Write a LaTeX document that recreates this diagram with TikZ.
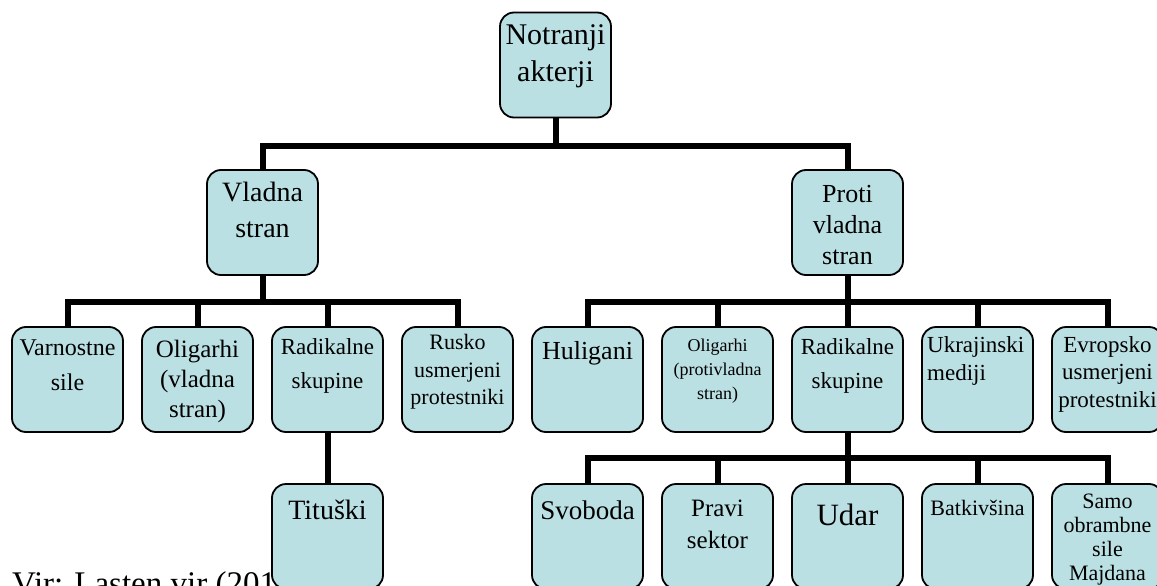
\documentclass[tikz,border=0pt]{standalone}
\usepackage{fontspec}
\setmainfont{Liberation Serif}
\definecolor{boxfill}{HTML}{BBE0E3}
\newcommand\setfs[2]{\fontsize{#1}{#2}\selectfont}
\tikzset{
  box/.style={draw=black, line width=1.8pt, fill=boxfill, rounded corners=14pt,
    minimum width=111pt, minimum height=105pt, inner sep=0pt},
  conn/.style={draw=black, line width=6pt, line join=miter},
  lbl/.style={align=center, inner sep=0pt, text=black},
}
\begin{document}
\begin{tikzpicture}[x=1pt, y=-1pt]
\useasboundingbox (0,0) rectangle (1157,586);
\clip (0,0) rectangle (1157,586);
\fill[white] (0,0) rectangle (1157,586);

% caption (partly hidden by the Tituski box)
\node[anchor=base west, inner sep=0pt, font=\setfs{33}{40}] (vir) at (12,594) {Vir: Lasten vir (2016};

% bar levels
\coordinate (b1) at (0,146);
\coordinate (b2) at (0,302);
\coordinate (b3) at (0,458);

% boxes
\node[box] (top) at (555.5,65) {};
\node[box] (vl) at (262.5,222.5) {};
\node[box] (pr) at (847.5,222.5) {};

\node[box] (vs)  at (67.5,379.5) {};
\node[box] (ol1) at (197.5,379.5) {};
\node[box] (rd1) at (327.5,379.5) {};
\node[box] (ru)  at (457.5,379.5) {};
\node[box] (hu)  at (587.5,379.5) {};
\node[box] (ol2) at (717.5,379.5) {};
\node[box] (rd2) at (847.5,379.5) {};
\node[box] (uk)  at (977.5,379.5) {};
\node[box] (ev)  at (1107.5,379.5) {};

\node[box] (tit) at (327.5,536.5) {};
\node[box] (sv)  at (587.5,536.5) {};
\node[box] (ps)  at (717.5,536.5) {};
\node[box] (ud)  at (847.5,536.5) {};
\node[box] (bk)  at (977.5,536.5) {};
\node[box] (sm)  at (1107.5,536.5) {};

% connectors
\foreach \c in {vl,pr}
  \draw[conn] (top.south) -- (top.south |- b1) -| (\c.north);
\foreach \c in {vs,ol1,rd1,ru}
  \draw[conn] (vl.south) -- (vl.south |- b2) -| (\c.north);
\foreach \c in {hu,ol2,rd2,uk,ev}
  \draw[conn] (pr.south) -- (pr.south |- b2) -| (\c.north);
\draw[conn] (rd1.south) -- (tit.north);
\foreach \c in {sv,ps,ud,bk,sm}
  \draw[conn] (rd2.south) -- (rd2.south |- b3) -| (\c.north);

% texts
\node[lbl, font=\setfs{30}{37}] (top-t) at (555.5,56) {Notranji\\akterji};
\node[lbl, font=\setfs{28}{36}] (vl-t) at (262.5,210) {Vladna\\stran};
\node[lbl, font=\setfs{26}{31}] (pr-t) at (847.5,225) {Proti\\vladna\\stran};

\node[lbl, font=\setfs{24}{35}] (vs-t) at (67.5,365) {Varnostne\\sile};
\node[lbl, font=\setfs{25}{30}] (ol1-t) at (197.5,381) {Oligarhi\\(vladna\\stran)};
\node[lbl, font=\setfs{23}{34}] (rd1-t) at (327.5,366) {Radikalne\\skupine};
\node[lbl, font=\setfs{22}{27.5}] (ru-t) at (457.5,372) {Rusko\\usmerjeni\\protestniki};
\node[lbl, font=\setfs{26}{30}] (hu-t) at (587.5,353) {Huligani};
\node[lbl, font=\setfs{18}{24}] (ol2-t) at (717.5,371) {Oligarhi\\(protivladna\\stran)};
\node[lbl, font=\setfs{23}{34}] (rd2-t) at (847.5,366) {Radikalne\\skupine};
\node[lbl, align=left, anchor=west, font=\setfs{23}{28}] (uk-t) at (927,361) {Ukrajinski\\mediji};
\node[lbl, font=\setfs{23}{27.5}] (ev-t) at (1107.5,374) {Evropsko\\usmerjeni\\protestniki};

\node[lbl, font=\setfs{28}{32}] (tit-t) at (327.5,510) {Tituški};
\node[lbl, font=\setfs{27}{32}] (sv-t) at (587.5,510) {Svoboda};
\node[lbl, font=\setfs{25}{32}] (ps-t) at (717.5,524) {Pravi\\sektor};
\node[lbl, font=\setfs{31}{36}] (ud-t) at (847.5,515) {Udar};
\node[lbl, font=\setfs{22}{26}] (bk-t) at (977.5,508) {Batkivšina};
\node[lbl, font=\setfs{22}{24}] (sm-t) at (1107.5,540) {Samo\\obrambne\\sile\\Majdana};
\end{tikzpicture}
\end{document}
